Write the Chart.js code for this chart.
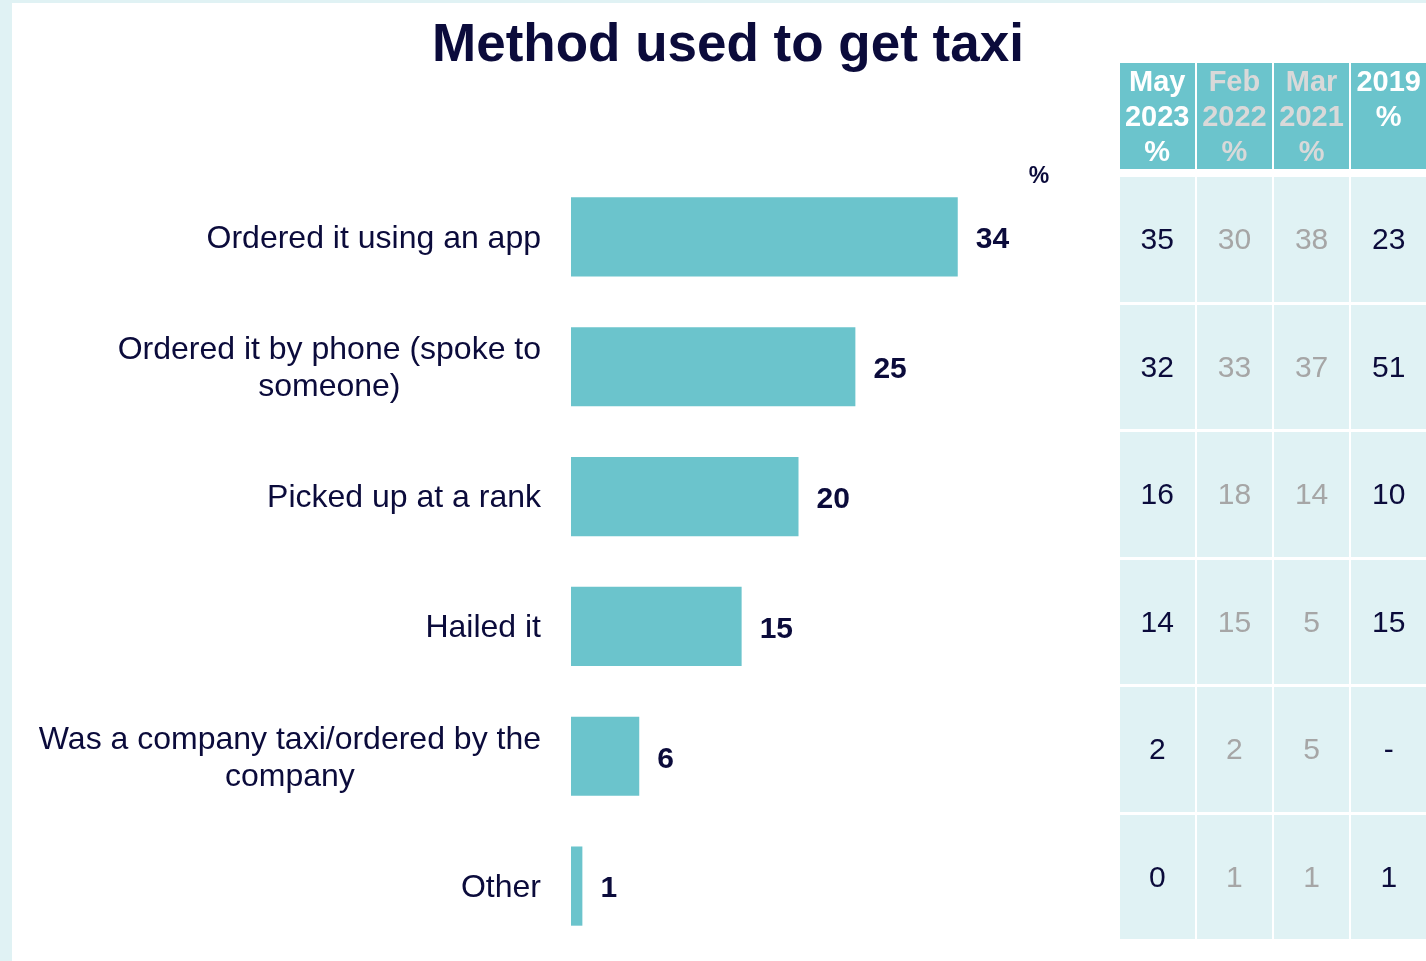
<!DOCTYPE html>
<html>
<head>
<meta charset="utf-8">
<title>Method used to get taxi</title>
<script src="https://cdn.jsdelivr.net/npm/chart.js@4.4.1/dist/chart.umd.min.js"></script>
<style>
  html, body { margin: 0; padding: 0; }
  body {
    width: 1426px; height: 961px; overflow: hidden;
    background: #e0f2f4;
    font-family: "Liberation Sans", Arial, sans-serif;
    position: relative;
  }
  #panel {
    position: absolute; left: 12px; top: 3px; right: 0; bottom: 0;
    background: #ffffff;
  }
  #title {
    position: absolute; left: 228px; width: 1000px; top: 12px;
    text-align: center; font-weight: bold; font-size: 53px; line-height: 62px;
    color: #0b0b3b;
  }
  #chartBox { position: absolute; left: 0; top: 0; width: 1100px; height: 961px; }
  #trend {
    position: absolute; left: 1120px; top: 63px; width: 306px;
    display: grid;
    grid-template-columns: repeat(4, 74.5px);
    column-gap: 2.67px;
    row-gap: 3px;
    grid-template-rows: 106px 2px repeat(6, 124.5px);
  }
  .hd {
    background: #6bc4cc; font-weight: bold; font-size: 29px; line-height: 35px;
    text-align: center; padding-top: 1px;
  }
  .cell {
    background: #e0f2f4; font-size: 30px;
    display: flex; align-items: center; justify-content: center;
  }
  .spacer { background: transparent; }
</style>
</head>
<body>
<div id="panel"></div>
<div id="chartBox"><canvas id="c" width="1100" height="961"></canvas></div>
<div id="title">Method used to get taxi</div>
<div id="trend"></div>
<script>
// Answer categories (multi-line labels are split into lines)
const categories = [
  ["Ordered it using an app"],
  ["Ordered it by phone (spoke to", "someone)"],
  ["Picked up at a rank"],
  ["Hailed it"],
  ["Was a company taxi/ordered by the", "company"],
  ["Other"]
];
// Current wave, % of respondents
const currentPct = [34, 25, 20, 15, 6, 1];

// Trend table columns
const waveHeaders = [["May", "2023", "%"], ["Feb", "2022", "%"], ["Mar", "2021", "%"], ["2019", "%"]];
const wave2023 = ["35", "32", "16", "14", "2", "0"];
const wave2022 = ["30", "33", "18", "15", "2", "1"];
const wave2021 = ["38", "37", "14", "5", "5", "1"];
const wave2019 = ["23", "51", "10", "15", "-", "1"];
const waveColumns = [wave2023, wave2022, wave2021, wave2019];
const headerColours = ["#ffffff", "#d9d9d9", "#d9d9d9", "#ffffff"];
const valueColours = ["#0b0b3b", "#a6a6a6", "#a6a6a6", "#0b0b3b"];

const NAVY = "#0b0b3b";
const TEAL = "#6bc4cc";
const FONT = '"Liberation Sans", Arial, sans-serif';

// Build trend table
const trend = document.getElementById("trend");
waveHeaders.forEach((lines, i) => {
  const d = document.createElement("div");
  d.className = "hd";
  d.style.color = headerColours[i];
  d.innerHTML = lines.join("<br>");
  trend.appendChild(d);
});
for (let i = 0; i < 4; i++) {
  const s = document.createElement("div");
  s.className = "spacer";
  trend.appendChild(s);
}
for (let r = 0; r < categories.length; r++) {
  waveColumns.forEach((col, i) => {
    const d = document.createElement("div");
    d.className = "cell";
    d.style.color = valueColours[i];
    d.textContent = col[r];
    trend.appendChild(d);
  });
}

// Category labels: block right-aligned to the axis, lines centred within the block
const categoryLabels = {
  id: "categoryLabels",
  afterDraw(chart) {
    const ctx = chart.ctx;
    const y = chart.scales.y;
    const right = chart.chartArea.left - 30;
    const lh = 37;
    ctx.save();
    ctx.font = "32px " + FONT;
    ctx.fillStyle = NAVY;
    ctx.textAlign = "center";
    ctx.textBaseline = "middle";
    categories.forEach((lines, i) => {
      const w = Math.max(...lines.map(l => ctx.measureText(l).width));
      const cx = right - w / 2;
      const cy = y.getPixelForValue(i) + 2;
      const y0 = cy - (lines.length - 1) * lh / 2;
      lines.forEach((l, k) => ctx.fillText(l, cx, y0 + k * lh));
    });
    ctx.restore();
  }
};

// Value labels at the end of each bar plus the unit marker
const valueLabels = {
  id: "valueLabels",
  afterDatasetsDraw(chart) {
    const ctx = chart.ctx;
    const meta = chart.getDatasetMeta(0);
    ctx.save();
    ctx.font = "bold 30px " + FONT;
    ctx.fillStyle = NAVY;
    ctx.textAlign = "left";
    ctx.textBaseline = "middle";
    meta.data.forEach((bar, i) => {
      ctx.fillText(String(chart.data.datasets[0].data[i]), bar.x + 18, bar.y + 3);
    });
    ctx.font = "bold 23px " + FONT;
    ctx.textAlign = "center";
    ctx.fillText("%", chart.chartArea.right + 13, chart.chartArea.top + 5);
    ctx.restore();
  }
};

new Chart(document.getElementById("c"), {
  type: "bar",
  data: {
    labels: categories.map(l => l.join(" ")),
    datasets: [{
      data: currentPct,
      backgroundColor: TEAL,
      borderWidth: 0,
      categoryPercentage: 1,
      barPercentage: 0.61
    }]
  },
  options: {
    indexAxis: "y",
    responsive: false,
    animation: false,
    layout: { padding: { top: 172, bottom: 10, left: 0, right: 74 } },
    plugins: {
      legend: { display: false },
      tooltip: { enabled: false },
      title: { display: false }
    },
    scales: {
      x: { display: false, min: 0, max: 40 },
      y: {
        grid: { display: false },
        border: { display: false },
        ticks: { display: false },
        afterFit(scale) { scale.width = 571; }
      }
    }
  },
  plugins: [categoryLabels, valueLabels]
});
</script>
</body>
</html>
